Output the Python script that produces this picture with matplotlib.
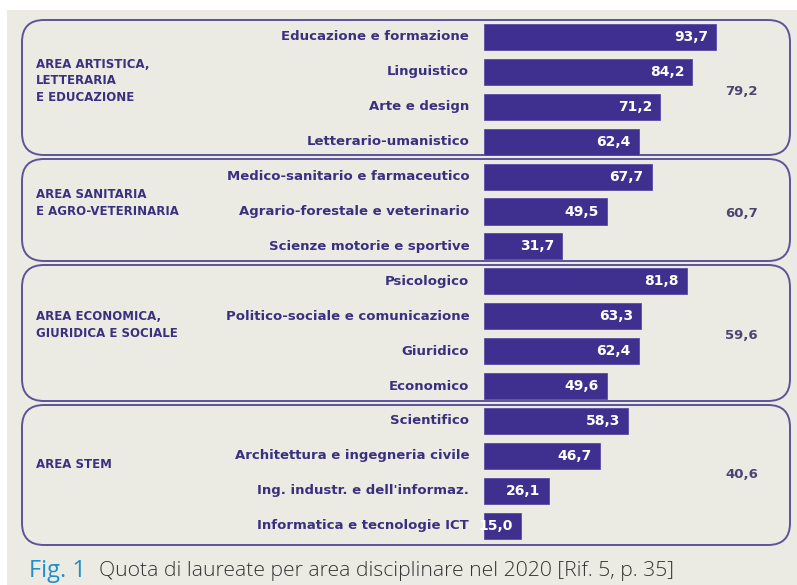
import numpy as np
import matplotlib.pyplot as plt
from matplotlib.patches import FancyBboxPatch, Rectangle

# dati
aree = ['AREA ARTISTICA,\nLETTERARIA\nE EDUCAZIONE',
        'AREA SANITARIA\nE AGRO-VETERINARIA',
        'AREA ECONOMICA,\nGIURIDICA E SOCIALE',
        'AREA STEM']
medie_area = [79.2, 60.7, 59.6, 40.6]
n_per_area = [4, 3, 4, 4]
categorie = ['Educazione e formazione', 'Linguistico', 'Arte e design',
             'Letterario-umanistico',
             'Medico-sanitario e farmaceutico', 'Agrario-forestale e veterinario',
             'Scienze motorie e sportive',
             'Psicologico', 'Politico-sociale e comunicazione', 'Giuridico',
             'Economico',
             'Scientifico', 'Architettura e ingegneria civile',
             "Ing. industr. e dell'informaz.", 'Informatica e tecnologie ICT']
valori = [93.7, 84.2, 71.2, 62.4,
          67.7, 49.5, 31.7,
          81.8, 63.3, 62.4, 49.6,
          58.3, 46.7, 26.1, 15.0]

W, H = 797, 585
bg = '#ecebe3'
viola = '#3f2f8e'
testo = '#3a3080'

fig = plt.figure(figsize=(W / 100, H / 100), dpi=100)
fig.patch.set_facecolor('white')

# assi in pixel per sfondo, riquadri, didascalia
deco = fig.add_axes([0, 0, 1, 1])
deco.set_xlim(0, W)
deco.set_ylim(H, 0)
deco.axis('off')
deco.add_patch(Rectangle((7, 10), W - 7, H - 10, facecolor=bg, edgecolor='none'))

# assi dati per le barre
px0, scala = 484, 2.476   # pixel di x=0, pixel per unita'
y0, passo = 37, 34.9      # pixel della prima riga, pixel per riga
ax = fig.add_axes([0, 0, 1, 1])
ax.set_xlim(-px0 / scala, (W - px0) / scala)
ax.set_ylim((H - y0) / passo, -y0 / passo)
ax.axis('off')
ax.patch.set_alpha(0)

righe = np.arange(len(valori))
ax.barh(righe, valori, height=0.75, color=viola, edgecolor='#5a4ca6', linewidth=0.6)
for r, v, c in zip(righe, valori, categorie):
    ax.text(v - 3.2, r, '{:.1f}'.format(v).replace('.', ','), ha='right', va='center',
            color='white', fontsize=10, fontweight='bold')
    ax.text(-6, r, c, ha='right', va='center', color=testo, fontsize=9.5,
            fontweight='bold')

# riquadri delle aree
bordi = [(20, 155), (159, 261), (265, 401), (405, 545)]
inizio = np.cumsum([0] + n_per_area[:-1])
for (top, bot), nome, media, i0, n in zip(bordi, aree, medie_area, inizio, n_per_area):
    deco.add_patch(FancyBboxPatch((22, top), 768, bot - top,
                                  boxstyle='round,pad=0,rounding_size=22',
                                  facecolor='none', edgecolor='#5d5398', linewidth=1.4))
    centro = i0 + (n - 1) / 2
    ax.text(-181, centro - 0.25, nome, ha='left', va='center', color=testo,
            fontsize=8.5, fontweight='bold', linespacing=1.35)
    ax.text(104, centro + 0.05, '{:.1f}'.format(media).replace('.', ','), ha='center',
            va='center', color='#4b4470', fontsize=9.5, fontweight='bold')

# didascalia
deco.text(29, 571, 'Fig. 1', ha='left', va='center', color='#1f8ec9',
          fontsize=17, family='Open Sans')
deco.text(99, 571, 'Quota di laureate per area disciplinare nel 2020 [Rif. 5, p. 35]',
          ha='left', va='center', color='#333333', fontsize=15.2,
          family='Open Sans', fontweight='light')

fig.savefig('out.png', dpi=100, facecolor=fig.get_facecolor())
